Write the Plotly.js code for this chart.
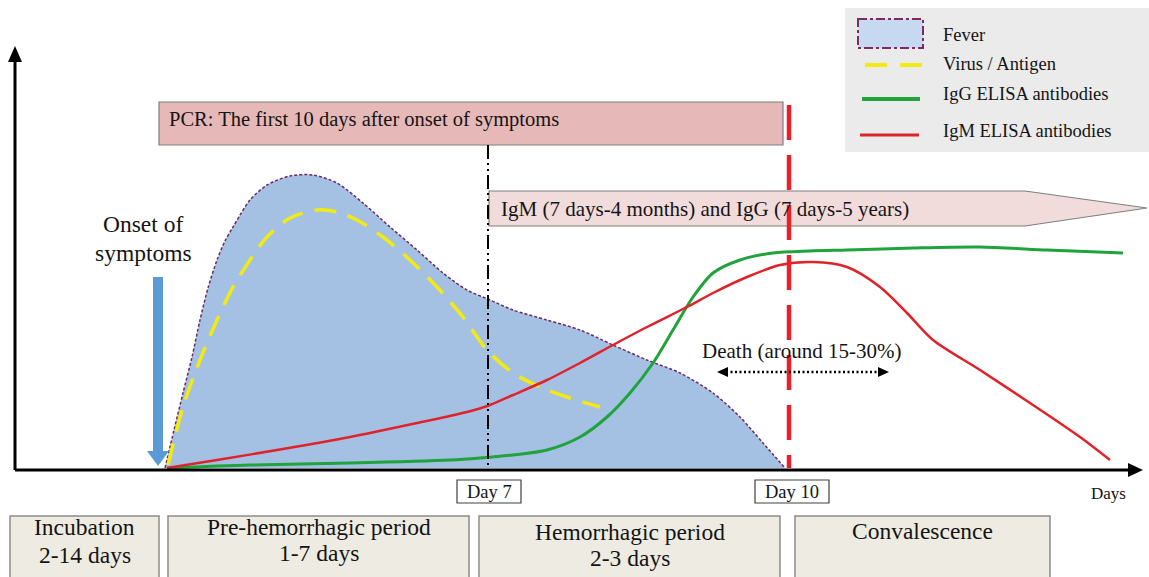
<!DOCTYPE html>
<html><head><meta charset="utf-8">
<script src="https://cdn.plot.ly/plotly-3.0.1.min.js"></script>
<style>html,body{margin:0;padding:0;background:#fff}</style>
</head><body><div id="chart" style="width:1149px;height:577px"></div>
<script>
// Time axis (schematic units) and relative levels above the baseline
const feverX = [165,174,183,192,200,208,217,225,233,250,267,290,313,337,363,390,417,443,467,490,513,547,580,613,647,680,713,740,763,785];
const feverLevel = [0,38,75,111,148,180,208,227,241,268,283,292,293,285,265,241,218,195,178,168,158,148,138,123,108,95,75,51,25,0];
const virusX = [168,183,200,217,233,250,267,290,317,337,357,383,410,437,463,487,513,540,570,600];
const virusLevel = [3,61,108,148,181,208,231,250,258,256,248,231,208,181,151,118,95,81,70,61];
const igmX = [167,217,283,350,417,467,490,513,547,580,613,647,687,713,747,780,813,847,880,907,933,980,1030,1080,1110];
const igmLevel = [0,8,19,31,45,56,63,73,88,105,123,141,161,175,191,203,206,201,181,155,128,98,65,31,8];
const iggX = [167,250,350,450,480,513,547,580,607,630,653,673,693,713,740,773,810,847,913,980,1047,1123];
const iggLevel = [0,3,5,8,10,13,18,31,51,75,105,138,171,195,208,215,217,218,220,221,218,215];

const seriesNames = ["Fever","Virus / Antigen","IgG ELISA antibodies","IgM ELISA antibodies"];
const dayLabels = ["Day 7","Day 10"];
const dayMarks = [488, 789];
const phaseLines = [["Incubation","2-14 days"],["Pre-hemorrhagic period","1-7 days"],["Hemorrhagic period","2-3 days"],["Convalescence"]];
const pcrText = "PCR: The first 10 days after onset of symptoms";
const abText = "IgM (7 days-4 months) and IgG (7 days-5 years)";
const deathText = "Death (around 15-30%)";
const onsetLines = ["Onset of","symptoms"];

const BASE = 468;
const Y = py => BASE - py;
const FONT = "Liberation Serif, Times New Roman, serif";
const TXT = "#141414";

const traces = [
  {x: feverX, y: feverLevel, type:'scatter', mode:'lines', fill:'tozeroy', fillcolor:'#a4c1e4',
   line:{shape:'spline', smoothing:0.8, color:'#6e2a5c', width:1.5, dash:'3px,2px'}, name: seriesNames[0]},
  {x: virusX, y: virusLevel, type:'scatter', mode:'lines',
   line:{shape:'spline', smoothing:0.8, color:'#f3ea12', width:3.5, dash:'22px,12px'}, name: seriesNames[1]},
  {x: iggX, y: iggLevel, type:'scatter', mode:'lines',
   line:{shape:'spline', smoothing:0.8, color:'#1fa33a', width:3}, name: seriesNames[2]},
  {x: igmX, y: igmLevel, type:'scatter', mode:'lines',
   line:{shape:'spline', smoothing:0.8, color:'#e0232a', width:2.5}, name: seriesNames[3]}
];

const shapes = [];
const annotations = [];
function rect(x0,y0,x1,y1,fill,lc,lw,dash){shapes.push({type:'rect',xref:'x',yref:'y',x0:x0,x1:x1,y0:Y(y0),y1:Y(y1),fillcolor:fill,line:{color:lc||'rgba(0,0,0,0)',width:lw||0,dash:dash||'solid'}});}
function line(x0,y0,x1,y1,color,w,dash){shapes.push({type:'line',xref:'x',yref:'y',x0:x0,x1:x1,y0:Y(y0),y1:Y(y1),line:{color:color,width:w,dash:dash||'solid'}});}
function poly(pts,fill,lc,lw){const p=pts.map((q,i)=>(i?'L':'M')+q[0]+','+Y(q[1])).join(' ')+' Z';shapes.push({type:'path',xref:'x',yref:'y',path:p,fillcolor:fill,line:{color:lc||'rgba(0,0,0,0)',width:lw||0}});}
function text(x,y,t,size,anchor){annotations.push({xref:'x',yref:'y',x:x,y:Y(y),text:t,showarrow:false,xanchor:anchor||'center',yanchor:'middle',font:{family:FONT,size:size,color:TXT}});}

// Legend box
rect(845,8,1149,152,'#ebebeb');
rect(858,19,923,48,'#c6d9f1','#7b2c5a',2,'dashdot');
line(865,65,922,65,'#f3ea12',4,'22px,13px');
line(862,99,920,99,'#1fa33a',4);
line(860,135,919,135,'#e0232a',3);
text(941,35,seriesNames[0],18.5,'left');
text(941,64,seriesNames[1],18.5,'left');
text(941,94,seriesNames[2],18.5,'left');
text(941,131,seriesNames[3],18.5,'left');

// PCR box
rect(159,102,783,145,'#e6b9b8','#7f7f7f',1.2);
text(167,119,pcrText,20.5,'left');

// Antibody arrow box
poly([[489,191],[1025,191],[1147,208],[1025,226],[489,226]],'#f2dcdb','#7f7f7f',1.2);
text(499,209,abText,21,'left');

// Vertical markers
line(dayMarks[0],145,dayMarks[0],BASE,'#000',2,'14px,4px,2px,4px,2px,4px');
line(dayMarks[1],105,dayMarks[1],BASE,'#e8202a',4.5,'35px,15px');

// Axes
line(15,470,1130,470,'#000',3);
poly([[1128,463],[1143,470],[1128,477]],'#000');
line(15,470,15,60,'#000',3);
poly([[8,62],[15,46],[22,62]],'#000');

// Onset arrow
rect(153,277,163,452,'#5b9bd5');
poly([[147,451],[169,451],[158,466]],'#5b9bd5');
text(143,224,onsetLines[0],23.5);
text(143,253,onsetLines[1],23.5);

// Death arrow
line(726,372,880,372,'#000',2.5,'2px,2.5px');
poly([[728,367],[717,372],[728,377]],'#000');
poly([[878,367],[889,372],[878,377]],'#000');
text(801,351,deathText,21);

// Day labels
rect(457,480,521,503,'#fff','#404040',1.2);
text(489,492,dayLabels[0],18.5);
rect(755,480,829,503,'#fff','#404040',1.2);
text(792,492,dayLabels[1],18.5);
text(1108,493,"Days",17);

// Phase boxes
const phaseBox = [[10,159],[168,469],[479,780],[795,1050]];
const phaseY = [[527,555],[527,553],[532,558],[531]];
phaseBox.forEach((b,i)=>{
  rect(b[0],516,b[1],590,'#eeece2','#8c8c8c',1.5);
  phaseLines[i].forEach((t,j)=>text((b[0]+b[1])/2,phaseY[i][j],t,23.5));
});

const layout = {
  width:1149, height:577, margin:{l:0,r:0,t:0,b:0},
  paper_bgcolor:'#fff', plot_bgcolor:'#fff', showlegend:false,
  xaxis:{range:[0,1149], visible:false, fixedrange:true},
  yaxis:{range:[Y(577),Y(0)], visible:false, fixedrange:true},
  shapes:shapes, annotations:annotations
};
Plotly.newPlot('chart', traces, layout, {staticPlot:true, displayModeBar:false});
</script></body></html>
